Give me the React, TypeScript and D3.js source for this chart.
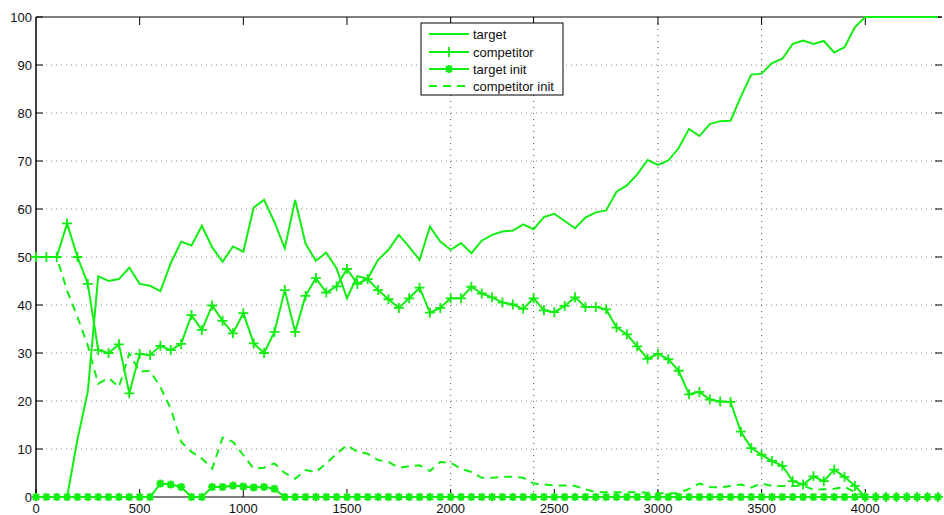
import * as d3 from "d3";

// sample positions (every 50 units)
const steps = d3.range(0, 4351, 50);

const target = [
    0, 0, 0, 0, 12, 22, 46, 45, 45.4, 47.8,
    44.4, 44.0, 42.9, 48.7, 53.2, 52.4, 56.5, 52.0, 49.0, 52.2,
    51.1, 60.3, 61.9, 57.3, 51.8, 61.9, 52.8, 49.2, 50.9, 47.6,
    41.4, 46.0, 45.5, 49.4, 51.5, 54.6, 52.1, 49.4, 56.3, 53.2,
    51.5, 52.9, 50.8, 53.4, 54.6, 55.3, 55.5, 56.8, 55.8, 58.3,
    59.0, 57.5, 56.0, 58.2, 59.3, 59.7, 63.6, 64.9, 67.2, 70.2,
    69.2, 70.1, 72.7, 76.7, 75.2, 77.7, 78.3, 78.4, 83.4, 88.0,
    88.2, 90.4, 91.3, 94.4, 95.1, 94.4, 95.0, 92.6, 93.7, 97.9,
    100, 100, 100, 100, 100, 100, 100, 100,
];

const competitor = [
    50, 50, 50, 57.0, 50, 44.4, 30.6, 30.0, 31.8, 21.6,
    29.8, 29.6, 31.5, 30.6, 31.9, 37.9, 34.8, 39.9, 36.7, 34.1,
    38.3, 32.0, 30.0, 34.4, 43.1, 34.4, 41.9, 45.6, 42.6, 43.9,
    47.5, 44.4, 45.4, 43.1, 41.2, 39.4, 41.4, 43.6, 38.4, 39.4,
    41.4, 41.4, 43.8, 42.4, 41.6, 40.5, 40.1, 39.2, 41.4, 38.9,
    38.5, 39.8, 41.6, 39.6, 39.6, 39.1, 35.3, 33.9, 31.4, 28.8,
    29.8, 28.7, 26.3, 21.4, 21.9, 20.3, 19.9, 19.8, 13.6, 10.2,
    8.8, 7.5, 6.5, 3.3, 2.6, 4.3, 3.3, 5.7, 4.2, 2.3,
    0, 0, 0, 0, 0, 0, 0, 0,
];

const targetInit = [
    0, 0, 0, 0, 0, 0, 0, 0, 0, 0,
    0, 0, 2.8, 2.6, 2.1, 0, 0, 2.1, 2.1, 2.4,
    2.2, 2.0, 2.1, 1.7, 0, 0, 0, 0, 0, 0,
    0, 0, 0, 0, 0, 0, 0, 0, 0, 0,
    0, 0, 0, 0, 0, 0, 0, 0, 0, 0,
    0, 0, 0, 0, 0, 0, 0, 0, 0, 0,
    0, 0, 0, 0, 0, 0, 0, 0, 0, 0,
    0, 0, 0, 0, 0, 0, 0, 0, 0, 0,
    0, 0, 0, 0, 0, 0, 0, 0,
];

const competitorInit = [
    50, 50, 50, 43, 37.5, 31.5, 23.6, 24.8, 22.9, 29.9,
    26.1, 26.3, 22.9, 18.4, 11.5, 9.4, 8.0, 5.9, 12.4, 11.5,
    8.7, 5.9, 6.1, 7.0, 5.0, 3.8, 5.6, 5.2, 7.0, 9.0,
    10.8, 9.4, 9.0, 7.7, 7.3, 6.1, 6.4, 6.6, 5.4, 7.3,
    7.1, 5.9, 5.2, 4.0, 4.0, 4.2, 4.2, 4.0, 2.8, 2.6,
    2.4, 2.4, 2.3, 1.6, 1.0, 1.0, 1.0, 1.0, 1.0, 0.9,
    0.8, 0.8, 0.8, 1.7, 2.8, 2.1, 2.0, 2.3, 2.6, 2.0,
    2.8, 2.3, 2.3, 2.3, 2.4, 1.5, 1.6, 1.7, 2.1, 1.0,
    0, 0, 0, 0, 0, 0, 0, 0,
];

const yTicks = [0, 10, 20, 30, 40, 50, 60, 70, 80, 90, 100];
const xTicks = [0, 500, 1000, 1500, 2000, 2500, 3000, 3500, 4000];
const xGrid = [2000, 2400, 3000, 3500];
const topTicks = [500, 1000, 1500, 2000, 2400, 3000, 3500, 4000];
const legendLabels = ["target", "competitor", "target init", "competitor init"];

const green = "#12ee12";
const font = "'Liberation Sans', Arial, Helvetica, sans-serif";

function Plus({x, y, s = 5}: {x: number, y: number, s?: number}) {
    return <path d={`M${x - s},${y}H${x + s}M${x},${y - s}V${y + s}`} stroke={green} strokeWidth={1.8} fill="none"/>;
}

function Star({x, y, s = 4}: {x: number, y: number, s?: number}) {
    const d = s * 0.75;
    return <path d={`M${x - s},${y}H${x + s}M${x},${y - s}V${y + s}M${x - d},${y - d}L${x + d},${y + d}M${x - d},${y + d}L${x + d},${y - d}`}
                 stroke={green} strokeWidth={2.2} fill="none"/>;
}

export default function App() {
    const width = 944;
    const height = 515;

    const x = d3.scaleLinear().domain([0, 4370]).range([36, 942]);
    const y = d3.scaleLinear().domain([0, 100]).range([497, 17]);

    const line = d3.line<number>()
        .x((_, i) => x(steps[i]))
        .y(d => y(d));

    const lx0 = 429, lx1 = 469;
    const rows = [34, 52, 69, 86];

    return (
        <svg width={width} height={height} style={{position: "absolute", left: 0, top: 0, background: "#fff"}}
             fontFamily={font}>
            {/* horizontal grid */}
            {yTicks.slice(1, -1).map(t => (
                <line key={"gy" + t} x1={x(0)} x2={942} y1={y(t)} y2={y(t)}
                      stroke="#888" strokeWidth={1} strokeDasharray="1,4"/>
            ))}
            {/* vertical grid */}
            {xGrid.map(t => (
                <line key={"gx" + t} x1={x(t)} x2={x(t)} y1={y(100)} y2={y(0)}
                      stroke="#555" strokeWidth={1} strokeDasharray="1,5"/>
            ))}

            {/* axes box */}
            <line x1={x(0)} x2={942} y1={y(100)} y2={y(100)} stroke="#000" strokeWidth={1}/>
            <line x1={x(0)} x2={942} y1={y(0)} y2={y(0)} stroke="#000" strokeWidth={1}/>
            <line x1={x(0)} x2={x(0)} y1={y(100)} y2={y(0)} stroke="#000" strokeWidth={1.5}/>

            {yTicks.map(t => (
                <g key={"yt" + t}>
                    <line x1={x(0)} x2={x(0) + 7} y1={y(t)} y2={y(t)} stroke="#000"/>
                    <line x1={935} x2={942} y1={y(t)} y2={y(t)} stroke="#000"/>
                    <text x={32} y={y(t)} dy="0.35em" textAnchor="end" fontSize={13} fill="#111">{t}</text>
                </g>
            ))}
            {xTicks.map(t => (
                <g key={"xt" + t}>
                    <line x1={x(t)} x2={x(t)} y1={y(0)} y2={y(0) - 8} stroke="#000"/>
                    <text x={x(t)} y={513} textAnchor="middle" fontSize={13} fill="#111">{t}</text>
                </g>
            ))}
            {topTicks.map(t => (
                <line key={"tt" + t} x1={x(t)} x2={x(t)} y1={y(100)} y2={y(100) + 8} stroke="#000"/>
            ))}

            {/* series */}
            <path d={line(target) ?? ""} fill="none" stroke={green} strokeWidth={2}/>
            <path d={line(competitor) ?? ""} fill="none" stroke={green} strokeWidth={2}/>
            {competitor.map((v, i) => <Plus key={"c" + i} x={x(steps[i])} y={y(v)}/>)}
            <path d={line(targetInit) ?? ""} fill="none" stroke={green} strokeWidth={2}/>
            {targetInit.map((v, i) => <Star key={"ti" + i} x={x(steps[i])} y={y(v)}/>)}
            <path d={line(competitorInit) ?? ""} fill="none" stroke={green} strokeWidth={2}
                  strokeDasharray="8,6"/>

            {/* legend */}
            <rect x={421} y={23} width={142} height={72} fill="#fff" stroke="#000" strokeWidth={1}/>
            {legendLabels.map((label, i) => (
                <g key={label}>
                    <line x1={lx0} x2={lx1} y1={rows[i]} y2={rows[i]} stroke={green} strokeWidth={2}
                          strokeDasharray={i === 3 ? "8,6" : undefined}/>
                    {i === 1 && <Plus x={(lx0 + lx1) / 2} y={rows[i]}/>}
                    {i === 2 && <Star x={(lx0 + lx1) / 2} y={rows[i]}/>}
                    <text x={473} y={rows[i]} dy="0.35em" fontSize={13} fill="#111">{label}</text>
                </g>
            ))}
        </svg>
    );
}
